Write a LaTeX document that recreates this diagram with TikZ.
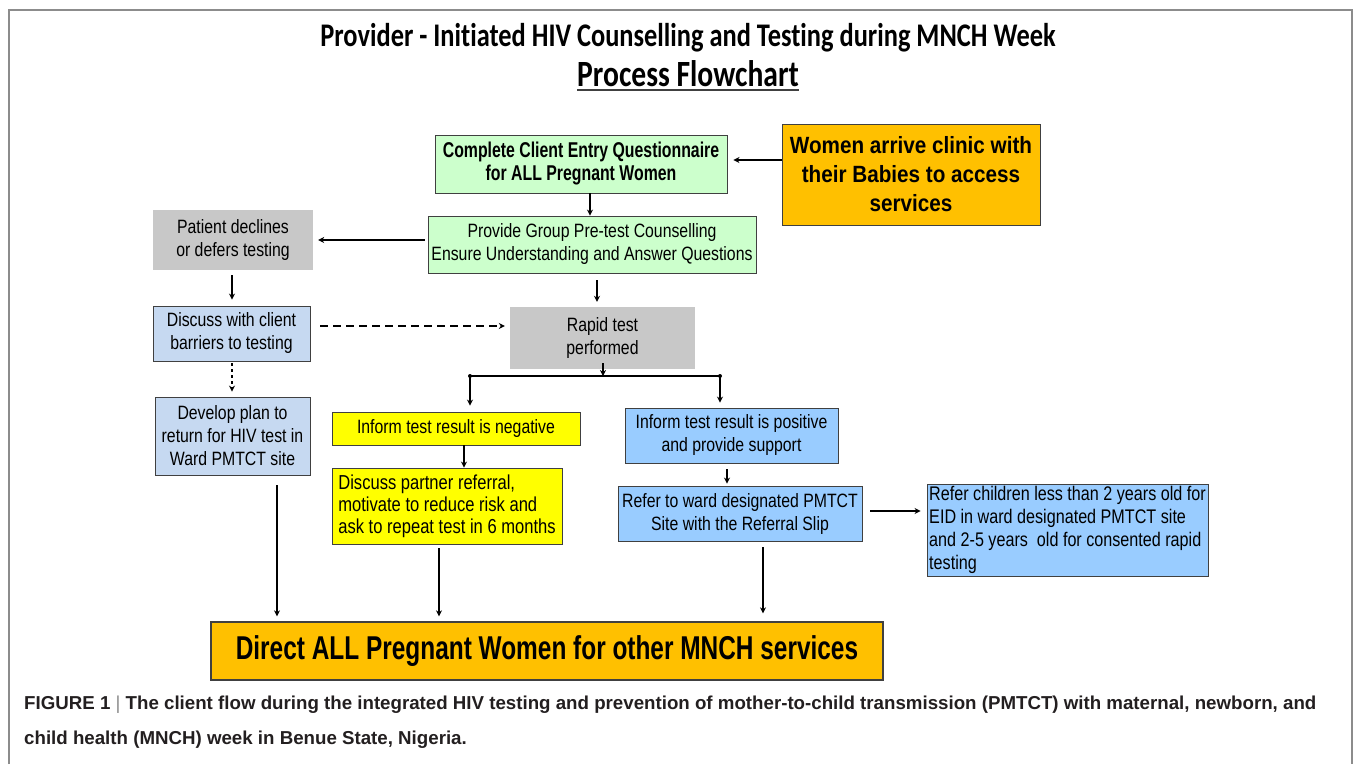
\documentclass[tikz,border=0pt]{standalone}
\usepackage{fontspec}
\usetikzlibrary{arrows.meta,calc}
\setmainfont{Liberation Sans}
\newfontfamily\narrowf[FakeStretch=0.82]{Liberation Sans}
\newfontfamily\boldnarrow[FakeStretch=0.74]{Liberation Sans Bold}
\newfontfamily\boldsemi[FakeStretch=0.88]{Liberation Sans Bold}
\newfontfamily\titlef[FakeStretch=0.80,Ligatures=NoCommon]{Carlito Bold}
\definecolor{cgreen}{HTML}{CCFFCC}
\definecolor{corange}{HTML}{FFC000}
\definecolor{cgray}{HTML}{C8C8C8}
\definecolor{clblue}{HTML}{C6D9F1}
\definecolor{cblue}{HTML}{99CCFF}
\definecolor{cyellow}{HTML}{FFFF00}
\definecolor{frame}{HTML}{8C8C8C}
\definecolor{captxt}{HTML}{231F20}
\tikzset{
  box/.style={draw=black!75, line width=0.9pt, inner sep=2pt, align=center,
    minimum width=#1, font=\narrowf\fontsize{19.3}{23}\selectfont},
  greybox/.style={fill=cgray, draw=none, inner sep=2pt, align=center,
    minimum width=#1, font=\narrowf\fontsize{19.3}{23}\selectfont},
  arr/.style={line width=1.6pt, -{Stealth[length=6pt,width=6pt]}},
  dotend/.style={circle, fill=black, inner sep=0pt, minimum size=4pt}
}
\begin{document}
\begin{tikzpicture}[x=1pt,y=-1pt]
\useasboundingbox (0,0) rectangle (1357,764);
\fill[white] (0,0) rectangle (1357,764);
% frame
\draw[frame, line width=1.5pt] (9,764) -- (9,10) -- (1352,10) -- (1352,764);
% title
\node[font=\titlef\fontsize{33}{34}\selectfont] (title) at (688,38) {Provider - Initiated HIV Counselling and Testing during MNCH Week};
\node[font=\titlef\fontsize{37}{38}\selectfont, inner sep=0pt] (sub) at (688,74) {Process Flowchart};
\draw[line width=2pt, black!75] ($(sub.south west)+(0,3)$) -- ($(sub.south east)+(0,3)$);

% helper lines
\coordinate (y160) at (0,160);
\coordinate (y240) at (0,240);
\coordinate (y326) at (0,326);
\coordinate (y511) at (0,511);
\coordinate (x590) at (590,0);
\coordinate (x597) at (597,0);
\coordinate (x603) at (603,0);
\coordinate (x232) at (232,0);
\coordinate (x464) at (464,0);
\coordinate (x727) at (727,0);
\coordinate (x277) at (277,0);
\coordinate (x439) at (439,0);
\coordinate (x763) at (763,0);

% nodes
\node[box=292pt, minimum height=58pt, fill=cgreen, font=\boldnarrow\fontsize{21.4}{23}\selectfont] (n1) at (581,164)
  {Complete Client Entry Questionnaire\\for ALL Pregnant Women};
\node[box=258pt, minimum height=101pt, fill=corange, font=\boldsemi\fontsize{23.5}{29}\selectfont] (n2) at (911,174.5)
  {Women arrive clinic with\\their Babies to access\\services};
\node[box=328pt, minimum height=57pt, fill=cgreen] (n3) at (592,244.5)
  {Provide Group Pre-test Counselling\\Ensure Understanding and Answer Questions};
\node[greybox=160pt, minimum height=60pt] (n4) at (233,240)
  {Patient declines\\or defers testing};
\node[box=157pt, minimum height=55pt, fill=clblue] (n5) at (231.5,333.5)
  {Discuss with client\\barriers to testing};
\node[greybox=185pt, minimum height=62pt] (n6) at (602.5,338)
  {Rapid test\\performed};
\node[box=155pt, minimum height=78pt, fill=clblue] (n7) at (232.5,436)
  {Develop plan to\\return for HIV test in\\Ward PMTCT site};
\node[box=248pt, minimum height=33pt, fill=cyellow] (n8) at (456,428.5)
  {Inform test result is negative};
\node[box=230pt, minimum height=76pt, fill=cyellow, align=left, font=\narrowf\fontsize{20.2}{22}\selectfont] (n9) at (447,506)
  {Discuss partner referral,\\motivate to reduce risk and\\ask to repeat test in 6 months};
\node[box=213pt, minimum height=55pt, fill=cblue] (n10) at (731.5,435.5)
  {Inform test result is positive\\and provide support};
\node[box=244pt, minimum height=55pt, fill=cblue] (n11) at (740,513.5)
  {Refer to ward designated PMTCT\\Site with the Referral Slip};
\node[box=281pt, minimum height=92pt, fill=cblue, align=left, font=\narrowf\fontsize{19.7}{23}\selectfont] (n12) at (1067.5,530)
  {Refer children less than 2 years old for\\EID in ward designated PMTCT site\\and 2-5 years\ \ old for consented rapid\\testing};
\node[box=672pt, minimum height=58pt, fill=corange, line width=1.3pt, font=\boldnarrow\fontsize{33}{36}\selectfont] (n13) at (547,651)
  {Direct ALL Pregnant Women for other MNCH services};

% connectors
\draw[arr] (n2.west |- y160) -- ($(n1.east |- y160)+(6,0)$);
\draw[arr] (n1.south -| x590) -- (n3.north -| x590);
\draw[arr] ($(n3.west |- y240)+(-3,0)$) -- ($(n4.east |- y240)+(5,0)$);
\draw[arr] ($(n4.south -| x232)+(0,5)$) -- ($(n5.north -| x232)+(0,-6)$);
\draw[arr, dash pattern=on 8pt off 5pt] ($(n5.east |- y326)+(10,0)$) -- ($(n6.west |- y326)+(-5,0)$);
\draw[arr] ($(n3.south -| x597)+(0,7)$) -- ($(n6.north -| x597)+(0,-5)$);
\draw[arr, dash pattern=on 3pt off 3pt] ($(n5.south -| x232)+(0,2)$) -- ($(n7.north -| x232)+(0,-5)$);

\coordinate (bus) at (603,376);
\coordinate (busL) at (470,376);
\coordinate (busR) at (720,376);
\draw[arr] ($(n6.south -| x603)+(0,-6)$) -- (bus);
\draw[line width=1.6pt] (busL) -- (busR);
\node[dotend] (dL) at (busL) {};
\node[dotend] (dR) at (busR) {};
\draw[arr] (dL.center) -- ($(n8.north -| dL)+(0,-6)$);
\draw[arr] (dR.center) -- ($(n10.north -| dR)+(0,-5)$);

\draw[arr] (n8.south -| x464) -- (n9.north -| x464);
\draw[arr] ($(n10.south -| x727)+(0,6)$) -- ($(n11.north -| x727)+(0,-2)$);
\draw[arr] ($(n11.east |- y511)+(8,0)$) -- ($(n12.west |- y511)+(-6,0)$);

\draw[arr] ($(n7.south -| x277)+(0,10)$) -- ($(n13.north -| x277)+(0,-5)$);
\draw[arr] ($(n9.south -| x439)+(0,4)$) -- ($(n13.north -| x439)+(0,-5)$);
\draw[arr] ($(n11.south -| x763)+(0,6)$) -- ($(n13.north -| x763)+(0,-8)$);

% caption
\node[anchor=base west, inner sep=0pt, text=captxt,
  font=\bfseries\fontsize{18.7}{22}\selectfont] (cap1) at (24,709)
  {FIGURE 1 {\mdseries\color{black!45}|} The client flow during the integrated HIV testing and prevention of mother-to-child transmission (PMTCT) with maternal, newborn, and};
\node[anchor=base west, inner sep=0pt, text=captxt,
  font=\bfseries\fontsize{18.7}{22}\selectfont] (cap2) at (24,744)
  {child health (MNCH) week in Benue State, Nigeria.};
\end{tikzpicture}
\end{document}
